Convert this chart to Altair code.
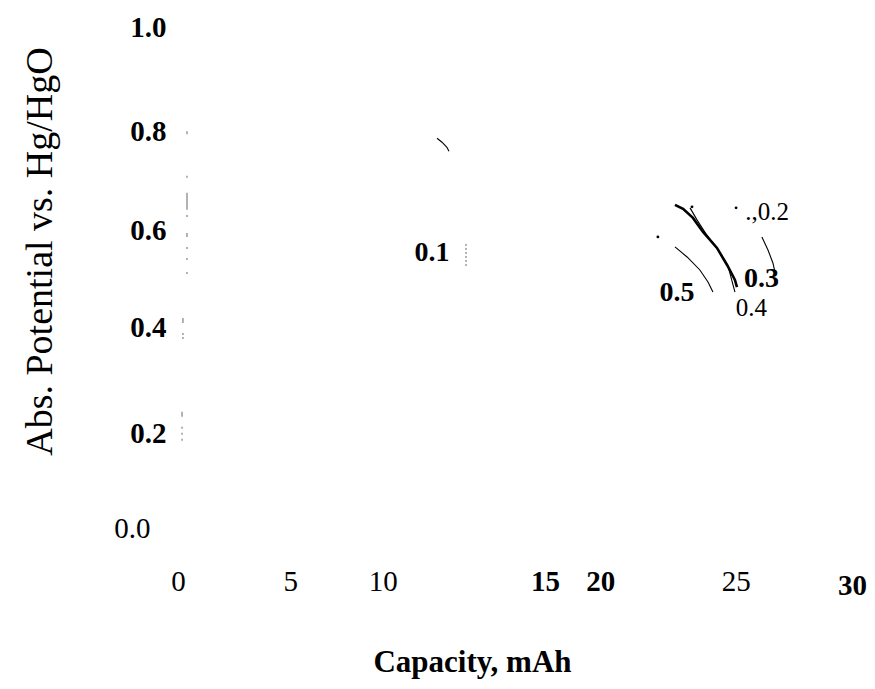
import altair as alt
import pandas as pd

# ---- data ----
x_ticks = [0, 5, 10, 15, 20, 25, 30]
y_ticks = [0.0, 0.2, 0.4, 0.6, 0.8, 1.0]

# curve series (capacity mAh, potential V)
c03_x = [22.12, 22.48, 22.92, 23.37, 23.99, 24.44, 24.79, 24.88]
c03_y = [0.645, 0.637, 0.619, 0.591, 0.559, 0.525, 0.495, 0.481]
c04_x = [22.79, 23.10, 23.50, 24.04, 24.48, 24.79]
c04_y = [0.639, 0.615, 0.587, 0.555, 0.523, 0.471]
c05_x = [22.12, 22.66, 23.23, 23.59, 23.81]
c05_y = [0.561, 0.541, 0.515, 0.491, 0.471]
c02_x = [25.99, 26.26, 26.48, 26.57]
c02_y = [0.581, 0.555, 0.529, 0.511]
c01_x = [11.53, 11.75, 11.97, 12.06]
c01_y = [0.778, 0.770, 0.760, 0.752]
c01d_x = [12.82, 12.82]
c01d_y = [0.567, 0.519]

# faint marks near zero capacity: x, y top, y bottom
faint_x = [0.40, 0.40, 0.40, 0.40, 0.40, 0.40, 0.40, 0.40, 0.22, 0.22, 0.22, 0.18, 0.18, 0.18, 0.18]
faint_y1 = [0.703, 0.669, 0.625, 0.589, 0.561, 0.539, 0.511, 0.792, 0.419, 0.389, 0.381, 0.232, 0.202, 0.190, 0.178]
faint_y2 = [0.699, 0.635, 0.621, 0.581, 0.557, 0.535, 0.507, 0.786, 0.409, 0.385, 0.377, 0.222, 0.198, 0.186, 0.174]

dot_x = [21.36, 22.88, 24.84]
dot_y = [0.581, 0.641, 0.639]

lab_text = [".,0.2", "0.3", "0.4", "0.5", "0.1"]
lab_x = [26.22, 25.97, 25.52, 22.21, 11.31]
lab_y = [0.631, 0.498, 0.440, 0.469, 0.549]
lab_weight = ["normal", "bold", "normal", "bold", "bold"]

# ---- tables ----
def series(name, xs, ys):
    return pd.DataFrame({"cap": xs, "pot": ys, "s": name, "o": range(len(xs))})

thin = pd.concat([series("0.4", c04_x, c04_y), series("0.5", c05_x, c05_y),
                  series("0.2", c02_x, c02_y), series("0.1", c01_x, c01_y)])
thick = series("0.3", c03_x, c03_y)
dotted = series("0.1d", c01d_x, c01d_y)
faint = pd.DataFrame({"cap": faint_x, "y1": faint_y1, "y2": faint_y2})
dots = pd.DataFrame({"cap": dot_x, "pot": dot_y})
labels = pd.DataFrame({"cap": lab_x, "pot": lab_y, "t": lab_text, "w": lab_weight})

FONT = "Liberation Serif"

xscale = alt.Scale(domain=[0, 30], nice=False, zero=False)
yscale = alt.Scale(domain=[0, 1], nice=False, zero=False)

xaxis = alt.Axis(
    values=x_ticks, title="Capacity, mAh", grid=False, domain=False, ticks=False,
    labelFont=FONT, labelFontSize=29, labelColor="black", labelFlush=False,
    labelOverlap=False, labelBound=False, labelBaseline="top",
    labelFontWeight={"condition": {"test": "datum.value == 15 || datum.value == 20 || datum.value == 30", "value": "bold"}, "value": "normal"},
    labelOffset={"condition": [
        {"test": "datum.value == 10", "value": -20},
        {"test": "datum.value == 15", "value": 30},
        {"test": "datum.value == 20", "value": -27},
        {"test": "datum.value == 25", "value": -4},
    ], "value": 0},
    labelPadding={"condition": {"test": "datum.value == 30", "value": 43}, "value": 39},
    titleFont=FONT, titleFontSize=31, titleFontWeight="bold", titleColor="black",
    titleX=294, titleY=143, titleBaseline="alphabetic", titleAlign="center",
)
yaxis = alt.Axis(
    values=y_ticks, format=".1f", title="Abs. Potential vs. Hg/HgO", grid=False,
    domain=False, ticks=False, labelFont=FONT, labelFontSize=29, labelColor="black",
    labelFlush=False, labelOverlap=False, labelBound=False,
    labelFontWeight={"condition": {"test": "datum.value == 0", "value": "normal"}, "value": "bold"},
    labelOffset={"condition": [
        {"test": "abs(datum.value - 0.8) < 0.01", "value": 4},
        {"test": "abs(datum.value - 0.6) < 0.01", "value": 3},
        {"test": "abs(datum.value - 0.2) < 0.01", "value": 6},
    ], "value": 0},
    labelPadding={"condition": {"test": "datum.value == 0", "value": 28}, "value": 12},
    titleFont=FONT, titleFontSize=38, titleFontWeight="normal", titleColor="black",
    titleAngle=-90, titleX=-138, titleY=224, titleAlign="center", titleBaseline="middle",
)

base_x = alt.X("cap:Q", scale=xscale, axis=xaxis)
base_y = alt.Y("pot:Q", scale=yscale, axis=yaxis)

thin_layer = alt.Chart(thin).mark_line(color="black", strokeWidth=1.1).encode(
    x=base_x, y=base_y, detail="s:N", order="o:Q")
thick_layer = alt.Chart(thick).mark_line(color="black", strokeWidth=2.6).encode(
    x="cap:Q", y="pot:Q", order="o:Q")
dotted_layer = alt.Chart(dotted).mark_line(color="#666666", strokeWidth=1, strokeDash=[2, 2]).encode(
    x="cap:Q", y="pot:Q", order="o:Q")
faint_layer = alt.Chart(faint).mark_rule(color="#999999", strokeWidth=1.5).encode(
    x="cap:Q", y="y1:Q", y2="y2:Q")
dot_layer = alt.Chart(dots).mark_point(filled=True, color="black", size=8, opacity=1).encode(
    x="cap:Q", y="pot:Q")
lab_bold = alt.Chart(labels[labels.w == "bold"]).mark_text(
    font=FONT, fontSize=28, fontWeight="bold", color="black").encode(
    x="cap:Q", y="pot:Q", text="t:N")
lab_norm = alt.Chart(labels[labels.w == "normal"]).mark_text(
    font=FONT, fontSize=25, fontWeight="normal", color="black").encode(
    x="cap:Q", y="pot:Q", text="t:N")

chart = alt.layer(thin_layer, thick_layer, dotted_layer, faint_layer, dot_layer, lab_bold, lab_norm).properties(
    width=674, height=501,
    background="white",
    autosize=alt.AutoSizeParams(type="none"),
    padding={"left": 178, "top": 27, "right": 23, "bottom": 161},
).configure_view(strokeWidth=0, stroke="transparent")

chart.save("out.html", embed_options={"renderer": "svg", "actions": False})
